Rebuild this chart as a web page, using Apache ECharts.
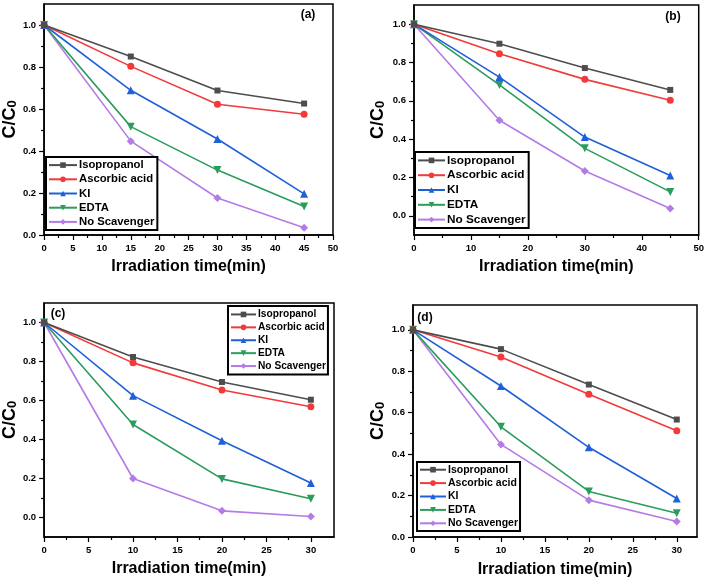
<!DOCTYPE html>
<html>
<head>
<meta charset="utf-8">
<script src="https://cdn.jsdelivr.net/npm/echarts@6/dist/echarts.min.js"></script>
<style>
html,body{margin:0;padding:0;background:#fff;}
#chart{width:707px;height:581px;}
</style>
</head>
<body>
<div id="chart"></div>
<script>
// ---------- DATA ----------
const seriesNames = ['Isopropanol', 'Ascorbic acid', 'KI', 'EDTA', 'No Scavenger'];
const panelLabels = ['(a)', '(b)', '(c)', '(d)'];

// Panel (a)
const timeA = [0, 15, 30, 45];
const isoA  = [1.0, 0.850, 0.688, 0.626];
const ascA  = [1.0, 0.803, 0.623, 0.575];
const kiA   = [1.0, 0.689, 0.457, 0.196];
const edtaA = [1.0, 0.516, 0.309, 0.136];
const noA   = [1.0, 0.447, 0.176, 0.035];

// Panel (b)
const timeB = [0, 15, 30, 45];
const isoB  = [1.0, 0.898, 0.771, 0.657];
const ascB  = [1.0, 0.846, 0.712, 0.603];
const kiB   = [1.0, 0.724, 0.411, 0.210];
const edtaB = [1.0, 0.683, 0.352, 0.125];
const noB   = [1.0, 0.499, 0.234, 0.038];

// Panel (c)
const timeC = [0, 10, 20, 30];
const isoC  = [1.0, 0.823, 0.695, 0.604];
const ascC  = [1.0, 0.793, 0.654, 0.568];
const kiC   = [1.0, 0.625, 0.394, 0.177];
const edtaC = [1.0, 0.477, 0.198, 0.096];
const noC   = [1.0, 0.200, 0.034, 0.005];

// Panel (d)
const timeD = [0, 10, 20, 30];
const isoD  = [1.0, 0.907, 0.736, 0.567];
const ascD  = [1.0, 0.869, 0.689, 0.513];
const kiD   = [1.0, 0.729, 0.433, 0.186];
const edtaD = [1.0, 0.532, 0.220, 0.115];
const noD   = [1.0, 0.447, 0.178, 0.075];

// Tick labels
const yTicks    = [0, 0.2, 0.4, 0.6, 0.8, 1.0];
const yMinor    = [0.1, 0.3, 0.5, 0.7, 0.9];
const xTicksA   = [0, 5, 10, 15, 20, 25, 30, 35, 40, 45, 50];
const xMinorA   = [2.5, 7.5, 12.5, 17.5, 22.5, 27.5, 32.5, 37.5, 42.5, 47.5];
const xTicksB   = [0, 10, 20, 30, 40, 50];
const xMinorB   = [5, 15, 25, 35, 45];
const xTicksCD  = [0, 5, 10, 15, 20, 25, 30];
const xMinorCD  = [2.5, 7.5, 12.5, 17.5, 22.5, 27.5];

// ---------- STYLE ----------
const FONT = '"Liberation Sans", Arial, sans-serif';
const colors  = ['#4d4d4d', '#f23a3a', '#1f60d8', '#2a9c5c', '#b47be6'];
const symbols = ['rect', 'circle', 'triangle', 'triangle', 'diamond'];
const symRot  = [0, 0, 0, 180, 0];
const symSize = [6, 7, 8, 8, 8];

const panels = [
  { grid: {left: 43, top: 4, width: 290, height: 231}, x: timeA, ys: [isoA, ascA, kiA, edtaA, noA],
    xr: [0, 50], yr: [0, 1.1], xt: xTicksA, xm: xMinorA, yGap: 24, xGap: 24,
    legend: {left: 46, top: 157, font: 11.3, lh: 14.2, iw: 28, pad: [1, 3, 1, 2]},
    lab: {x: 308, y: 15} },
  { grid: {left: 414, top: 5, width: 286, height: 230}, x: timeB, ys: [isoB, ascB, kiB, edtaB, noB],
    xr: [0, 50], yr: [-0.1, 1.1], xt: xTicksB, xm: xMinorB, yGap: 27, xGap: 24,
    legend: {left: 415, top: 152, font: 11.8, lh: 14.8, iw: 27, pad: [1, 3, 1, 2]},
    lab: {x: 673, y: 17} },
  { grid: {left: 43, top: 303, width: 291, height: 234}, x: timeC, ys: [isoC, ascC, kiC, edtaC, noC],
    xr: [0, 32.6], yr: [-0.1, 1.1], xt: xTicksCD, xm: xMinorCD, yGap: 24, xGap: 24,
    legend: {left: 228, top: 306, font: 10.2, lh: 12.9, iw: 25, pad: [2, 2, 2, 2]},
    lab: {x: 58, y: 314} },
  { grid: {left: 413, top: 305, width: 284, height: 232}, x: timeD, ys: [isoD, ascD, kiD, edtaD, noD],
    xr: [0, 32.3], yr: [0, 1.12], xt: xTicksCD, xm: xMinorCD, yGap: 26, xGap: 25,
    legend: {left: 417, top: 462, font: 10.5, lh: 13.4, iw: 26, pad: [1, 2, 1, 2]},
    lab: {x: 425, y: 318} }
];

const option = {
  backgroundColor: '#fff',
  animation: false,
  grid: [], xAxis: [], yAxis: [], series: [], legend: [], graphic: []
};

panels.forEach((p, i) => {
  option.grid.push(Object.assign({show: true, borderColor: '#000', borderWidth: 1.5, containLabel: false}, p.grid));
  // main x axis
  option.xAxis.push({
    type: 'value', gridIndex: i, min: p.xr[0], max: p.xr[1], position: 'bottom',
    name: 'Irradiation time(min)', nameLocation: 'middle', nameGap: p.xGap,
    nameTextStyle: {fontFamily: FONT, fontWeight: 'bold', fontSize: 16, color: '#000'},
    axisLine: {show: true, onZero: false, lineStyle: {color: '#000', width: 1.5}},
    axisTick: {show: true, inside: false, length: 5, lineStyle: {color: '#000', width: 1.2}, customValues: p.xt},
    axisLabel: {show: true, margin: 8, fontFamily: FONT, fontWeight: 'bold', fontSize: 9.5, color: '#000', customValues: p.xt,
      formatter: v => String(v)},
    splitLine: {show: false}
  });
  // minor x ticks
  option.xAxis.push({
    type: 'value', gridIndex: i, min: p.xr[0], max: p.xr[1], position: 'bottom', offset: 0,
    axisLine: {show: false, onZero: false}, axisLabel: {show: false}, splitLine: {show: false},
    axisTick: {show: true, inside: false, length: 3, lineStyle: {color: '#000', width: 1.2}, customValues: p.xm}
  });
  // main y axis
  option.yAxis.push({
    type: 'value', gridIndex: i, min: p.yr[0], max: p.yr[1], position: 'left',
    name: 'C/C{sub|0}', nameLocation: 'middle', nameGap: p.yGap,
    nameTextStyle: {fontFamily: FONT, fontWeight: 'bold', fontSize: 18, color: '#000',
      rich: {sub: {fontFamily: FONT, fontWeight: 'bold', fontSize: 13, color: '#000', verticalAlign: 'bottom', lineHeight: 10}}},
    axisLine: {show: true, onZero: false, lineStyle: {color: '#000', width: 1.5}},
    axisTick: {show: true, inside: false, length: 5, lineStyle: {color: '#000', width: 1.2}, customValues: yTicks},
    axisLabel: {show: true, margin: 8, fontFamily: FONT, fontWeight: 'bold', fontSize: 9.5, color: '#000', customValues: yTicks,
      formatter: v => Number(v).toFixed(1)},
    splitLine: {show: false}
  });
  // minor y ticks
  option.yAxis.push({
    type: 'value', gridIndex: i, min: p.yr[0], max: p.yr[1], position: 'left', offset: 0,
    axisLine: {show: false, onZero: false}, axisLabel: {show: false}, splitLine: {show: false},
    axisTick: {show: true, inside: false, length: 3, lineStyle: {color: '#000', width: 1.2}, customValues: yMinor}
  });

  p.ys.forEach((vals, k) => {
    option.series.push({
      type: 'line', name: seriesNames[k],
      xAxisIndex: i * 2, yAxisIndex: i * 2,
      data: p.x.map((t, j) => [t, vals[j]]),
      symbol: symbols[k], symbolRotate: symRot[k], symbolSize: symSize[k],
      showAllSymbol: true, clip: false,
      lineStyle: {color: colors[k], width: 1.6},
      itemStyle: {color: colors[k]},
      z: 3 + (4 - k)
    });
  });

  option.legend.push({
    orient: 'vertical', left: p.legend.left, top: p.legend.top,
    data: seriesNames.map(n => ({name: n})),
    itemWidth: p.legend.iw, itemHeight: 7, itemGap: 0,
    padding: p.legend.pad, borderColor: '#000', borderWidth: 2, backgroundColor: '#fff',
    selectedMode: false,
    textStyle: {fontFamily: FONT, fontWeight: 'bold', fontSize: p.legend.font, lineHeight: p.legend.lh, color: '#000', padding: [0, 0, 0, -3]},
    z: 10
  });

  option.graphic.push({
    type: 'text', x: p.lab.x, y: p.lab.y, z: 20,
    style: {text: panelLabels[i], fontFamily: FONT, fontWeight: 'bold', fontSize: 12, fill: '#000', align: 'center', verticalAlign: 'middle'}
  });
});

const chart = echarts.init(document.getElementById('chart'), null, {renderer: 'canvas'});
chart.setOption(option);
</script>
</body>
</html>
